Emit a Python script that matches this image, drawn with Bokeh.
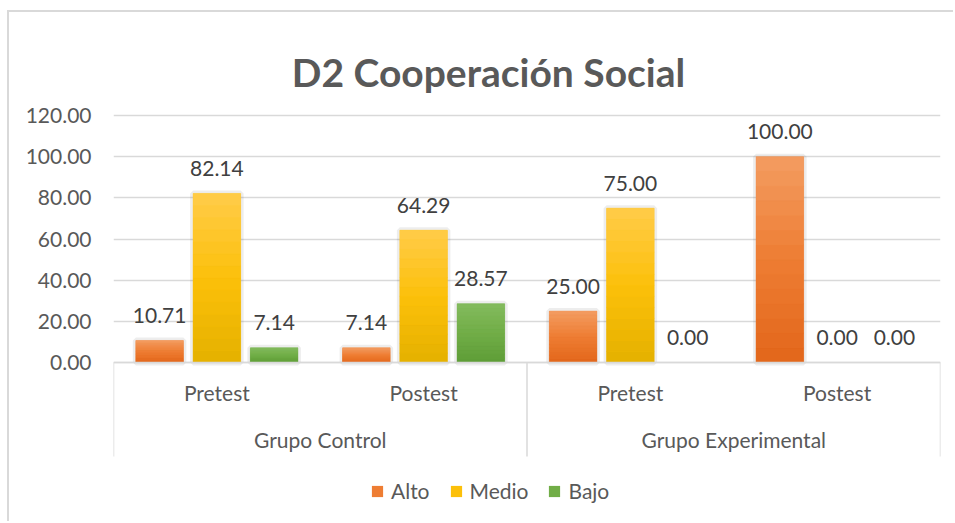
import numpy as np
from bokeh.plotting import figure
from bokeh.models import (ColumnDataSource, Range1d, FixedTicker, NumeralTickFormatter,
                          Label, Legend, LegendItem, CDSView, BooleanFilter)
from bokeh.embed import file_html
from bokeh.resources import INLINE
from bokeh.core.properties import value

# ---------------- data ----------------
title = "D2 Cooperación Social"
groups = ["Grupo Control", "Grupo Experimental"]
phases = ["Pretest", "Postest", "Pretest", "Postest"]
series = ["Alto", "Medio", "Bajo"]
alto = [10.71, 7.14, 25.00, 100.00]
medio = [82.14, 64.29, 75.00, 0.00]
bajo = [7.14, 28.57, 0.00, 0.00]
y_ticks = [0, 20, 40, 60, 80, 100, 120]

# ---------------- style ----------------
FONT = "Lato"
TXT = "#595959"
LBL = "#404040"
GRID = "#d9d9d9"
colors_top = ["#F39A5E", "#FFCB45", "#82BA5C"]
colors_mid = ["#EE7D33", "#FCC00A", "#71AD47"]
colors_bot = ["#E3681C", "#E6B200", "#5F9E38"]

# canvas placed at page (CX, CY) via CSS margin + 2px border
CX, CY = 9, 12
W, H = 955 - CX, 523 - CY
# page-pixel anchors
PX0, PX_UNIT = 113.0, 206.75      # x=0 at page px 113, one category = 206.75 px
PY0, PY_UNIT = 362.0, 2.0583      # y=0 at page py 362
def dx(px): return (px - PX0) / PX_UNIT
def dy(py): return (PY0 - py) / PY_UNIT

p = figure(width=W, height=H, output_backend="svg", toolbar_location=None,
           x_axis_type=None, x_range=Range1d(0, 4),
           y_range=Range1d(dy(523), dy(CY)),
           min_border_left=int(PX0 - CX), min_border_right=W - (940 - CX),
           min_border_top=0, min_border_bottom=0)
p.styles = {"margin-left": "7px", "margin-top": "10px",
            "border-left": "2px solid #d9d9d9", "border-top": "2px solid #d9d9d9"}
p.outline_line_color = None
p.xgrid.visible = False
p.ygrid.ticker = FixedTicker(ticks=y_ticks)
p.ygrid.grid_line_color = GRID
p.ygrid.grid_line_width = 1.3

ya = p.yaxis[0]
ya.ticker = FixedTicker(ticks=y_ticks)
ya.formatter = NumeralTickFormatter(format="0.00")
ya.axis_line_color = None
ya.major_tick_line_color = None
ya.minor_tick_line_color = None
ya.major_tick_out = 0
ya.major_label_standoff = 22
ya.major_label_text_font = FONT
ya.major_label_text_font_size = "21px"
ya.major_label_text_color = TXT

# ---------------- bars ----------------
n = len(alto)
vals = [alto, medio, bajo]
offsets = [-0.277, 0.0, 0.277]
bw = 0.23

def mix(c1, c2, t):
    a = [int(c1[i:i+2], 16) for i in (1, 3, 5)]
    b = [int(c2[i:i+2], 16) for i in (1, 3, 5)]
    return "#%02x%02x%02x" % tuple(int(round(a[k] + (b[k] - a[k]) * t)) for k in range(3))

legend_items = []
for j, s in enumerate(series):
    xs = [i + 0.5 + offsets[j] for i in range(n)]
    src = ColumnDataSource(dict(x=xs, top=vals[j]))
    nz = CDSView(filter=BooleanFilter([v > 0 for v in vals[j]]))
    # soft shadow
    p.vbar(x="x", top="top", bottom=0, width=bw, source=src, view=nz,
           fill_color=None, line_color="#000000", line_alpha=0.07, line_width=6)
    r = p.vbar(x="x", top="top", bottom=0, width=bw, source=src,
               fill_color=colors_mid[j], line_color=None)
    legend_items.append(LegendItem(label=s, renderers=[r]))
    # gradient strips (bottom dark -> top light)
    N = 14
    sx, sb, st, sc = [], [], [], []
    for i, v in enumerate(vals[j]):
        if v <= 0:
            continue
        for k in range(N):
            sx.append(xs[i]); sb.append(v * k / N); st.append(v * (k + 1) / N)
            t = k / (N - 1)
            sc.append(mix(colors_bot[j], colors_mid[j], t * 2) if t < 0.5
                      else mix(colors_mid[j], colors_top[j], (t - 0.5) * 2))
    p.vbar(x=sx, bottom=sb, top=st, width=bw, fill_color=sc, line_color=sc, line_width=0.5)

    # data labels
    p.text(x=xs, y=vals[j], text=["%.2f" % v for v in vals[j]],
           text_font=value(FONT), text_font_size="21px", text_color=LBL,
           text_align="center", text_baseline="alphabetic", y_offset=-25)

# ---------------- category axis (multi-level) ----------------
p.segment(x0=[0, 2, 4], y0=[0, 0, 0], x1=[0, 2, 4], y1=[dy(456)] * 3,
          line_color=GRID, line_width=1.5)
p.segment(x0=[0], y0=[0], x1=[4], y1=[0], line_color=GRID, line_width=1.5)
p.text(x=[i + 0.5 for i in range(n)], y=[dy(392)] * n, text=phases,
       text_font=value(FONT), text_font_size="21px", text_color=TXT,
       text_align="center", text_baseline="middle")
p.text(x=[1, 3], y=[dy(439)] * 2, text=groups,
       text_font=value(FONT), text_font_size="21px", text_color=TXT,
       text_align="center", text_baseline="middle")

# ---------------- title ----------------
p.add_layout(Label(x=dx(488), y=dy(71), text=title, text_font=FONT,
                   text_font_size="39px", text_font_style="bold", text_color=TXT,
                   text_align="center", text_baseline="alphabetic"))

# ---------------- legend ----------------
leg = Legend(items=legend_items, orientation="horizontal", location=(257, 20),
             label_text_font=FONT, label_text_font_size="21px", label_text_color=TXT,
             glyph_width=14, glyph_height=14, label_standoff=7, spacing=19,
             padding=0, margin=0, border_line_color=None, background_fill_alpha=0)
p.add_layout(leg)

open("out.html", "w").write(file_html(p, INLINE))
